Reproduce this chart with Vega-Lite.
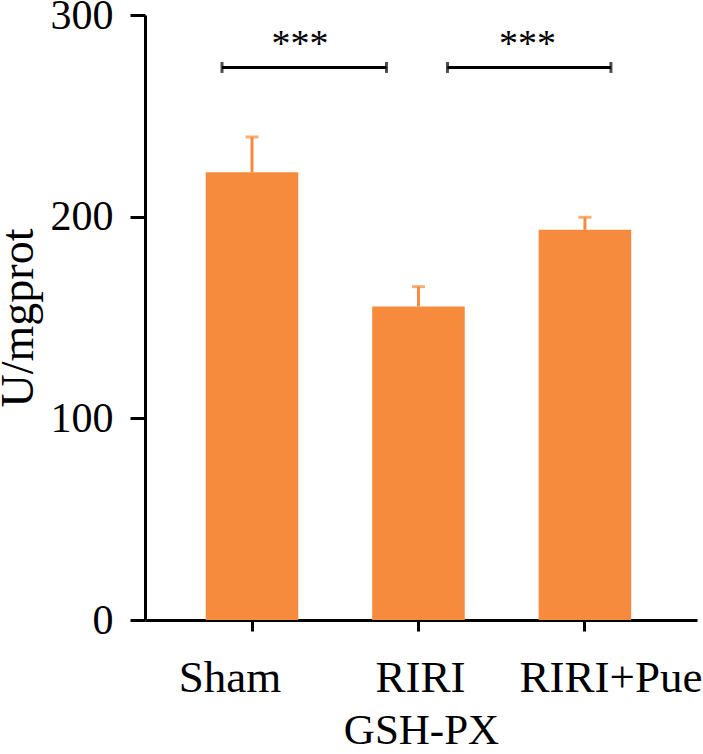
{
  "$schema": "https://vega.github.io/schema/vega-lite/v6.json",
  "width": 552,
  "height": 605,
  "autosize": {"type": "none"},
  "padding": {"left": 145, "top": 15, "right": 6, "bottom": 134},
  "background": "white",
  "config": {
    "view": {"stroke": null},
    "font": "Liberation Serif",
    "axis": {
      "grid": false,
      "domainColor": "black",
      "domainWidth": 3,
      "tickColor": "black",
      "tickWidth": 3,
      "labelColor": "black",
      "titleColor": "black",
      "labelFont": "Liberation Serif",
      "titleFont": "Liberation Serif",
      "titleFontWeight": "normal",
      "labelLimit": 0
    },
    "axisX": {"labelAngle": 0, "labelFontSize": 45, "titleFontSize": 43, "tickSize": 11, "labelPadding": 24, "titlePadding": 9},
    "axisY": {"labelFontSize": 42, "titleFontSize": 46, "tickSize": 15, "labelPadding": 17, "titlePadding": 8}
  },
  "datasets": {
    "bars": [
      {"group": "Sham", "mean": 222.0, "upper": 239.5},
      {"group": "RIRI", "mean": 155.5, "upper": 165.3},
      {"group": "RIRI+Pue", "mean": 193.5, "upper": 199.7}
    ],
    "brackets": [
      {"from": "Sham", "to": "RIRI", "y": 274, "label": "***"},
      {"from": "RIRI", "to": "RIRI+Pue", "y": 274, "label": "***"}
    ]
  },
  "layer": [
    {
      "data": {"name": "bars"},
      "layer": [
        {
          "mark": {"type": "bar", "color": "#F68B3E"},
          "encoding": {
            "x": {"field": "group", "type": "nominal", "title": "GSH-PX",
                  "scale": {"type": "band", "domain": ["Sham", "RIRI", "RIRI+Pue"], "paddingInner": 0.444, "paddingOuter": 0.38, "align": 0.48},
                  "axis": {"labelOffset": {"condition": [{"test": "datum.value === 'Sham'", "value": -22}, {"test": "datum.value === 'RIRI+Pue'", "value": 26}], "value": 2}}},
            "y": {"field": "mean", "type": "quantitative", "title": "U/mgprot",
                  "scale": {"domain": [0, 300], "nice": false},
                  "axis": {"values": [0, 100, 200, 300]}}
          }
        },
        {
          "mark": {"type": "rule", "color": "#F68B3E", "strokeWidth": 3},
          "encoding": {
            "x": {"field": "group", "type": "nominal", "title": "GSH-PX"},
            "y": {"field": "mean", "type": "quantitative", "title": "U/mgprot"},
            "y2": {"field": "upper"}
          }
        },
        {
          "mark": {"type": "tick", "color": "#F68B3E", "size": 13, "thickness": 3},
          "encoding": {
            "x": {"field": "group", "type": "nominal", "title": "GSH-PX"},
            "y": {"field": "upper", "type": "quantitative", "title": "U/mgprot"}
          }
        }
      ]
    },
    {
      "data": {"name": "brackets"},
      "transform": [{"filter": "datum.from === 'Sham'"}],
      "layer": [
        {
          "mark": {"type": "rule", "color": "black", "strokeWidth": 3, "xOffset": -30, "x2Offset": -32},
          "encoding": {
            "x": {"field": "from", "type": "nominal", "title": "GSH-PX"},
            "x2": {"field": "to"},
            "y": {"field": "y", "type": "quantitative", "title": "U/mgprot"}
          }
        },
        {
          "mark": {"type": "tick", "orient": "vertical", "color": "black", "size": 11, "thickness": 3, "xOffset": -30},
          "encoding": {
            "x": {"field": "from", "type": "nominal", "title": "GSH-PX"},
            "y": {"field": "y", "type": "quantitative", "title": "U/mgprot"}
          }
        },
        {
          "mark": {"type": "tick", "orient": "vertical", "color": "black", "size": 11, "thickness": 3, "xOffset": -32},
          "encoding": {
            "x": {"field": "to", "type": "nominal", "title": "GSH-PX"},
            "y": {"field": "y", "type": "quantitative", "title": "U/mgprot"}
          }
        },
        {
          "mark": {"type": "text", "fontSize": 38, "dx": 48, "dy": -11, "baseline": "alphabetic", "align": "center", "color": "black"},
          "encoding": {
            "x": {"field": "from", "type": "nominal", "title": "GSH-PX"},
            "y": {"field": "y", "type": "quantitative", "title": "U/mgprot"},
            "text": {"field": "label"}
          }
        }
      ]
    },
    {
      "data": {"name": "brackets"},
      "transform": [{"filter": "datum.from === 'RIRI'"}],
      "layer": [
        {
          "mark": {"type": "rule", "color": "black", "strokeWidth": 3, "xOffset": 29, "x2Offset": 26},
          "encoding": {
            "x": {"field": "from", "type": "nominal", "title": "GSH-PX"},
            "x2": {"field": "to"},
            "y": {"field": "y", "type": "quantitative", "title": "U/mgprot"}
          }
        },
        {
          "mark": {"type": "tick", "orient": "vertical", "color": "black", "size": 11, "thickness": 3, "xOffset": 29},
          "encoding": {
            "x": {"field": "from", "type": "nominal", "title": "GSH-PX"},
            "y": {"field": "y", "type": "quantitative", "title": "U/mgprot"}
          }
        },
        {
          "mark": {"type": "tick", "orient": "vertical", "color": "black", "size": 11, "thickness": 3, "xOffset": 26},
          "encoding": {
            "x": {"field": "to", "type": "nominal", "title": "GSH-PX"},
            "y": {"field": "y", "type": "quantitative", "title": "U/mgprot"}
          }
        },
        {
          "mark": {"type": "text", "fontSize": 38, "dx": 109, "dy": -11, "baseline": "alphabetic", "align": "center", "color": "black"},
          "encoding": {
            "x": {"field": "from", "type": "nominal", "title": "GSH-PX"},
            "y": {"field": "y", "type": "quantitative", "title": "U/mgprot"},
            "text": {"field": "label"}
          }
        }
      ]
    }
  ]
}
